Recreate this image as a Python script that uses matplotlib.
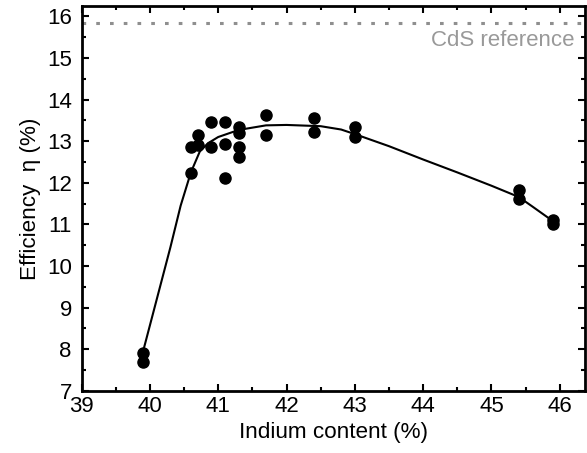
import matplotlib
matplotlib.use("Agg")
import matplotlib.pyplot as plt
from matplotlib.ticker import MultipleLocator

plt.rcParams['font.family'] = ['Liberation Sans', 'DejaVu Sans']

# measured cells: indium content (%) and efficiency (%)
indium = [39.9, 39.9, 40.6, 40.6, 40.7, 40.7, 40.9, 40.9, 41.1, 41.1, 41.1,
          41.3, 41.3, 41.3, 41.3, 41.7, 41.7, 42.4, 42.4, 43.0, 43.0,
          45.4, 45.4, 45.9, 45.9]
efficiency = [7.9, 7.7, 12.24, 12.85, 12.92, 13.16, 13.45, 12.85, 13.45, 12.94, 12.12,
              13.35, 13.2, 12.85, 12.63, 13.64, 13.14, 13.55, 13.23, 13.35, 13.11,
              11.83, 11.62, 11.1, 11.0]

# guide-to-the-eye curve
fit_x = [39.9, 40.1, 40.3, 40.45, 40.6, 40.73, 40.85, 41.0, 41.3, 41.7, 42.0,
         42.5, 42.8, 43.0, 43.5, 44.0, 44.5, 45.0, 45.4, 45.6, 45.9]
fit_y = [7.95, 9.2, 10.45, 11.45, 12.25, 12.75, 12.95, 13.1, 13.27, 13.38, 13.39,
         13.36, 13.28, 13.17, 12.88, 12.56, 12.25, 11.93, 11.66, 11.43, 11.08]

cds_reference = 15.85

fig = plt.figure(figsize=(5.87, 4.53), dpi=100)
ax = fig.add_axes([0.139, 0.137, 0.8576, 0.85])

ax.axhline(cds_reference, color='#8f8f8f', lw=2.2, linestyle=(0, (1.2, 3.3)), zorder=1)
ax.text(46.21, cds_reference - 0.18, 'CdS reference', color='#999999', fontsize=16,
        ha='right', va='top')

ax.plot(fit_x, fit_y, color='black', lw=1.5, zorder=2)
ax.plot(indium, efficiency, 'o', color='black', markersize=8, zorder=3)

ax.set_xlim(39, 46.37)
ax.set_ylim(7, 16.25)
ax.xaxis.set_major_locator(MultipleLocator(1))
ax.xaxis.set_minor_locator(MultipleLocator(0.5))
ax.yaxis.set_major_locator(MultipleLocator(1))
ax.yaxis.set_minor_locator(MultipleLocator(0.5))

ax.tick_params(which='both', direction='in', top=True, right=True, width=1.5,
               labelsize=16, color='black')
ax.tick_params(which='major', length=5)
ax.tick_params(which='minor', length=3)
ax.tick_params(axis='x', pad=4)
ax.tick_params(axis='y', pad=7)
for s in ax.spines.values():
    s.set_linewidth(2)

ax.set_xlabel('Indium content (%)', fontsize=16.2, labelpad=3)
ax.set_ylabel('Efficiency  η (%)', fontsize=16.2, labelpad=4)

plt.savefig('out.png', dpi=100)
plt.close()
